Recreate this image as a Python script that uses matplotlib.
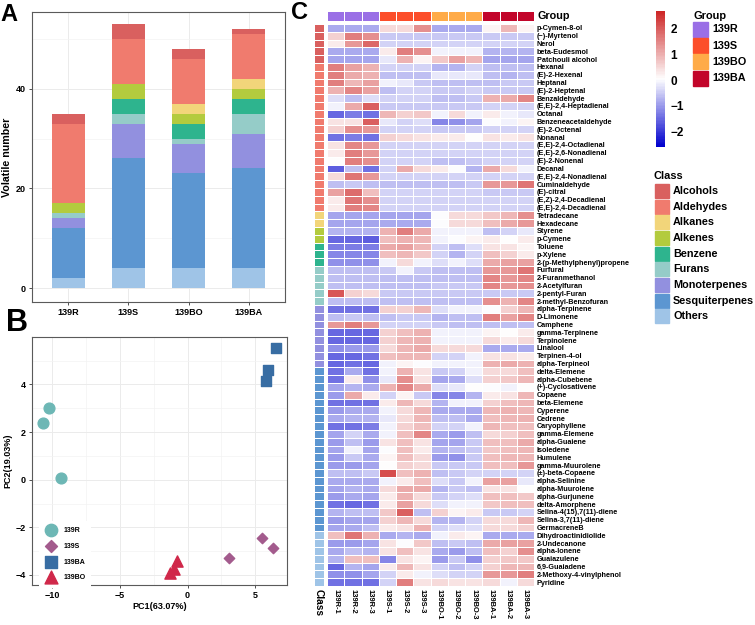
import numpy as np
import matplotlib
matplotlib.use("Agg")
import matplotlib.pyplot as plt
from matplotlib.colors import LinearSegmentedColormap, ListedColormap, Normalize
from matplotlib.patches import Rectangle

plt.rcParams['font.family'] = ['Liberation Sans', 'DejaVu Sans']
plt.rcParams['font.weight'] = 'bold'
plt.rcParams['axes.labelweight'] = 'bold'

W, H = 755, 625

# ---------------- data: panel A (number of volatiles per class)
groups = ['139R', '139S', '139BO', '139BA']
class_names = ['Alcohols', 'Aldehydes', 'Alkanes', 'Alkenes', 'Benzene',
               'Furans', 'Monoterpenes', 'Sesquiterpenes', 'Others']
class_colors = ['#D9605F', '#F07B6E', '#F2D57A', '#B3CB3E', '#2EB48E',
                '#95CCC8', '#9290DF', '#5C96D1', '#9FC4E7']

n_alcohols = [2, 3, 2, 1]
n_aldehydes = [16, 9, 9, 9]
n_alkanes = [0, 0, 2, 2]
n_alkenes = [2, 3, 2, 2]
n_benzene = [0, 3, 3, 3]
n_furans = [1, 2, 1, 4]
n_monoterpenes = [2, 7, 6, 7]
n_sesquiterpenes = [10, 22, 19, 20]
n_others = [2, 4, 4, 4]

# ---------------- data: panel B (PCA scores)
pca_groups = ['139R', '139S', '139BA', '139BO']
pc1_139R = [-10.25, -10.69, -9.36]
pc2_139R = [3.03, 2.38, 0.08]
pc1_139S = [3.06, 5.49, 6.28]
pc2_139S = [-3.30, -2.45, -2.87]
pc1_139BA = [6.55, 5.91, 5.81]
pc2_139BA = [5.51, 4.59, 4.15]
pc1_139BO = [-0.78, -0.98, -1.30]
pc2_139BO = [-3.41, -3.76, -3.90]

# ---------------- data: panel C (row z-scores)
samples = ['139R-1', '139R-2', '139R-3', '139S-1', '139S-2', '139S-3',
           '139BO-1', '139BO-2', '139BO-3', '139BA-1', '139BA-2', '139BA-3']
group_colors = ['#9A6FE6', '#FC4E2A', '#FFAB48', '#C2052A']
class_sizes = [5, 19, 2, 2, 3, 5, 8, 21, 7]

compounds = [
    'p-Cymen-8-ol', '(−)-Myrtenol', 'Nerol', 'beta-Eudesmol', 'Patchouli alcohol',
    'Hexanal', '(E)-2-Hexenal', 'Heptanal', '(E)-2-Heptenal', 'Benzaldehyde',
    '(E,E)-2,4-Heptadienal', 'Octanal', 'Benzeneacetaldehyde', '(E)-2-Octenal',
    'Nonanal', '(E,E)-2,4-Octadienal', '(E,E)-2,6-Nonadienal', '(E)-2-Nonenal',
    'Decanal', '(E,E)-2,4-Nonadienal', 'Cuminaldehyde', '(E)-citral',
    '(E,Z)-2,4-Decadienal', '(E,E)-2,4-Decadienal',
    'Tetradecane', 'Hexadecane', 'Styrene', 'p-Cymene', 'Toluene', 'p-Xylene',
    '2-(p-Methylphenyl)propene', 'Furfural', '2-Furanmethanol', '2-Acetylfuran',
    '2-pentyl-Furan', '2-methyl-Benzofuran',
    'alpha-Terpinene', 'D-Limonene', 'Camphene', 'gamma-Terpinene', 'Terpinolene',
    'Linalool', 'Terpinen-4-ol', 'alpha-Terpineol',
    'delta-Elemene', 'alpha-Cubebene', '(+)-Cyclosativene', 'Copaene', 'beta-Elemene',
    'Cyperene', 'Cedrene', 'Caryophyllene', 'gamma-Elemene', 'alpha-Guaiene',
    'Isoledene', 'Humulene', 'gamma-Muurolene', '(±)-beta-Copaene', 'alpha-Selinine',
    'alpha-Muurolene', 'alpha-Gurjunene', 'delta-Amorphene',
    'Selina-4(15),7(11)-diene', 'Selina-3,7(11)-diene', 'GermacreneB',
    'Dihydroactinidiolide', '2-Undecanone', 'alpha-Ionene', 'Guaiazulene',
    '6,9-Guaiadene', '2-Methoxy-4-vinylphenol', 'Pyridine',
]

zscores = np.array([
    [-0.8, -0.8, -0.8, 0.5, 0.5, 1.4, -0.8, -0.8, -0.8, 0.2, 0.9, 0.2],
    [0.6, 1.6, 1.4, -0.5, -0.5, -0.5, -0.5, -0.5, -0.5, -0.5, -0.5, -0.5],
    [0.3, 1.3, 1.9, -0.4, -0.4, -0.4, -0.4, -0.4, -0.4, -0.4, -0.4, -0.4],
    [-0.8, -0.8, -0.8, 0.3, 1.6, 1.4, -0.1, -0.1, -0.1, -0.7, -0.7, -0.7],
    [-0.9, -0.9, -0.9, -0.2, 1.0, 0.2, 0.7, 1.2, 0.9, -0.9, -0.9, -0.9],
    [1.6, 1.2, 1.0, -0.4, -0.4, -0.4, -0.7, -0.7, -0.4, -0.6, -0.6, -0.6],
    [1.6, 1.1, 1.0, -0.6, -0.6, -0.6, -0.2, -0.2, -0.2, -0.6, -0.7, -0.6],
    [1.6, 0.9, 1.2, -0.1, -0.2, -0.5, -0.6, -0.6, -0.6, -0.6, -0.5, -0.5],
    [1.0, 1.5, 1.2, -0.6, -0.4, -0.4, -0.5, -0.5, -0.4, -0.5, -0.5, -0.5],
    [-0.3, -0.6, -0.3, -0.4, -0.4, -0.4, -0.6, -0.6, -0.5, 1.0, 1.1, 1.5],
    [-0.1, 1.1, 2.0, -0.5, -0.5, -0.5, -0.5, -0.5, -0.5, -0.4, -0.4, -0.4],
    [-1.5, -1.3, -1.4, 0.9, 0.6, 0.7, -0.1, 0.5, -0.1, 0.3, -0.1, -0.2],
    [0.4, 0.4, 2.0, -0.2, -0.4, -0.3, -1.2, -1.1, -0.9, 0.0, -0.1, 0.2],
    [0.6, 1.4, 1.3, -0.4, -0.4, -0.4, -0.5, -0.5, -0.5, -0.4, -0.4, -0.4],
    [-1.4, -1.3, -1.4, 0.6, 0.5, 0.4, 0.3, 0.3, 0.1, 0.4, 0.3, 0.4],
    [0.4, 1.5, 1.3, -0.4, -0.4, -0.4, -0.4, -0.4, -0.4, -0.4, -0.4, -0.4],
    [0.3, 1.6, 1.3, -0.4, -0.4, -0.4, -0.4, -0.4, -0.4, -0.4, -0.4, -0.4],
    [0.1, 1.6, 1.4, -0.4, -0.4, -0.4, -0.6, -0.6, -0.5, -0.4, -0.4, -0.4],
    [-1.6, -0.6, -1.4, -0.4, 1.1, 0.5, 0.3, 0.0, -0.7, 1.1, 0.5, -0.1],
    [0.5, 1.7, 1.3, -0.4, -0.4, -0.4, -0.4, -0.4, -0.4, -0.4, -0.4, -0.4],
    [-0.6, -0.5, -0.6, -0.6, -0.6, -0.6, -0.6, -0.6, -0.5, 1.3, 1.3, 1.7],
    [1.2, 1.8, 0.8, -0.4, -0.4, -0.4, -0.4, -0.4, -0.4, -0.5, -0.5, -0.5],
    [0.3, 1.7, 1.4, -0.4, -0.4, -0.4, -0.4, -0.4, -0.4, -0.4, -0.4, -0.4],
    [0.3, 1.6, 1.5, -0.4, -0.4, -0.4, -0.4, -0.4, -0.4, -0.4, -0.4, -0.4],
    [-0.9, -0.9, -0.9, -0.9, -0.9, -0.9, 0.0, 0.5, 0.5, 0.7, 0.9, 1.4],
    [-0.9, -0.9, -0.9, -0.8, -0.8, -0.8, 0.0, 0.5, 0.5, 0.8, 1.1, 1.3],
    [-0.7, -0.7, -0.7, 1.0, 1.6, 1.1, -0.1, -0.1, -0.1, -0.6, -0.4, -0.2],
    [-1.5, -1.5, -1.6, 0.8, 1.0, 0.9, -0.1, 0.0, 0.2, 0.3, 0.1, 0.3],
    [-1.3, -1.3, -1.3, 1.1, 1.2, 0.9, -0.4, -0.6, -0.3, 0.4, 0.4, 0.2],
    [-1.2, -1.2, -1.2, 0.8, 0.9, 0.7, -0.4, -0.7, -0.4, 0.8, 0.6, 0.3],
    [-1.1, -1.1, -1.1, -0.1, 0.5, -0.1, -0.3, -0.1, -0.3, 1.1, 1.2, 1.2],
    [-0.6, -0.6, -0.6, -0.5, -0.1, -0.5, -0.6, -0.6, -0.6, 1.3, 1.3, 1.7],
    [-0.6, -0.6, -0.6, -0.6, -0.6, -0.6, -0.6, -0.6, -0.6, 1.5, 1.3, 1.5],
    [-0.6, -0.6, -0.6, -0.6, -0.6, -0.6, -0.5, -0.5, -0.5, 1.5, 1.3, 1.4],
    [2.1, 0.6, 0.5, -0.5, -0.5, -0.5, -0.5, -0.5, -0.5, -0.5, -0.5, -0.5],
    [-0.6, -0.6, -0.6, -0.6, -0.6, -0.6, -0.6, -0.6, -0.6, 1.4, 1.0, 1.5],
    [-1.4, -1.4, -1.4, 0.6, 0.6, 0.9, -0.3, -0.1, -0.1, 0.0, 0.6, 0.9],
    [-0.6, -0.5, -0.6, -0.6, -0.5, -0.5, -0.7, -0.6, -0.6, 1.6, 1.2, 1.5],
    [1.3, 1.6, 1.3, -0.4, -0.4, -0.4, -0.5, -0.6, -0.6, -0.6, -0.6, -0.6],
    [-1.5, -1.5, -1.5, 0.6, 0.8, 1.0, -0.1, -0.1, -0.1, 0.2, 0.1, 0.3],
    [-1.5, -1.5, -1.5, 0.6, 0.9, 1.0, -0.1, -0.1, -0.1, 0.5, 0.3, 0.5],
    [-1.1, -1.0, -1.0, 0.5, 0.9, 1.1, 0.5, 0.5, 0.5, -0.8, -0.8, -0.8],
    [-1.5, -1.5, -1.4, 0.8, 0.9, 0.9, -0.4, -0.4, -0.1, 0.4, 0.4, 0.3],
    [-1.5, -1.4, -1.5, -0.1, 0.2, 0.0, -0.1, -0.1, -0.1, 1.0, 1.1, 1.0],
    [-1.4, -0.8, -1.4, -0.1, 1.0, 0.4, -0.5, -0.4, -0.1, 0.5, 0.5, 0.8],
    [-1.4, 0.3, -1.1, -0.2, 1.4, 0.4, -0.9, -0.8, -0.3, 0.6, 0.7, 0.9],
    [-0.9, -0.7, -0.8, 1.0, 1.5, 1.1, -0.3, -0.2, 0.1, 0.0, -0.1, 0.1],
    [-1.0, 1.1, 0.3, -0.4, 0.2, -0.5, -1.2, -1.2, -0.7, 0.3, 0.4, 0.9],
    [-1.4, -1.4, -1.4, 0.3, 0.9, 0.5, -0.7, -0.1, -0.1, 0.6, 0.8, 0.9],
    [-1.0, -0.8, -0.8, -0.1, 0.5, 0.9, -0.8, -0.8, -0.8, 0.9, 1.0, 0.9],
    [-0.8, -0.7, -0.7, -0.2, 0.5, 0.9, -0.6, -0.6, -0.8, 0.8, 0.9, 1.0],
    [-1.4, -1.4, -1.3, -0.1, 0.6, 0.8, -0.4, -0.4, -0.1, 0.9, 0.8, 0.8],
    [-0.9, -0.4, -0.8, -0.1, 0.8, 1.5, -0.8, -1.0, -0.6, 0.5, 0.6, 0.8],
    [-1.0, -0.6, -1.0, 0.4, 0.8, 0.4, -0.9, -0.9, -0.5, 0.8, 0.8, 1.1],
    [-0.9, -0.1, -0.9, 0.0, 0.8, 0.3, -0.7, -0.6, -0.5, 0.7, 0.8, 0.9],
    [-1.0, -0.5, -0.8, 0.2, 0.8, 0.5, -1.0, -1.1, -0.5, 0.8, 0.9, 0.9],
    [-1.0, -1.0, -0.9, 0.1, 0.6, 0.5, -0.5, -0.5, -0.5, 0.8, 0.8, 1.3],
    [-0.6, -0.6, -0.5, 2.2, 0.8, 1.0, -0.6, -0.5, -0.4, -0.4, -0.4, -0.4],
    [-0.8, -0.8, -0.8, -0.1, 0.3, 0.8, -0.3, -0.5, -0.1, 1.2, 1.2, -0.2],
    [-0.9, -0.7, -0.8, 0.5, 1.1, 1.1, -0.7, -0.5, -0.6, 0.4, 0.4, 0.1],
    [-1.0, -0.8, -0.9, 0.3, 1.0, 0.5, -0.5, -0.4, -0.3, 0.8, 0.8, 0.7],
    [-1.4, -1.5, -1.4, 0.3, 1.2, 0.5, -0.3, -0.1, -0.1, 0.7, 0.8, 0.8],
    [-0.7, -0.6, -0.6, 0.7, 2.0, -0.6, 0.6, 0.2, 0.3, -0.5, -0.5, -0.4],
    [-1.0, -0.9, -0.9, 0.6, 0.9, 0.5, -0.7, -0.7, -0.4, 0.5, 0.5, 0.9],
    [-0.9, -0.8, -0.6, 0.3, 0.4, 1.0, -0.4, -0.3, -0.3, 0.5, 0.5, 0.6],
    [0.8, 1.7, 1.0, -0.8, -0.7, -0.8, -0.1, 0.3, 0.2, -0.8, -0.8, -0.8],
    [-1.0, -1.0, -0.9, 0.4, 0.0, 0.7, -0.6, -0.5, -0.6, 1.1, 1.2, 1.2],
    [-0.8, -0.6, -0.7, 0.4, 0.8, 0.4, -0.8, -1.0, -0.6, 0.8, 0.6, 1.4],
    [-0.7, 0.8, 0.8, -1.2, 0.4, 0.2, -1.0, -0.5, -1.1, 0.6, 0.7, 0.7],
    [-1.5, -0.7, -0.9, 0.3, 0.9, 0.4, -0.4, -0.6, -0.4, 0.6, 0.9, 0.9],
    [-1.1, -1.1, -0.9, -0.4, 0.3, -0.1, -0.3, -0.4, -0.4, 1.3, 1.3, 1.6],
    [-1.4, -1.4, -1.4, -0.4, 1.6, 0.4, 0.5, 0.4, 0.4, 0.5, -0.1, 0.5],
])


def add_ax(x0, y0, x1, y1):
    # axes placed by pixel box (left, top, right, bottom)
    return fig.add_axes([x0 / W, 1 - y1 / H, (x1 - x0) / W, (y1 - y0) / H])


def style_ggplot(ax):
    for s in ax.spines.values():
        s.set_color('#5A5A5A')
        s.set_linewidth(0.8)
    ax.grid(which='major', color='#EBEBEB', lw=0.7, zorder=0)
    ax.grid(which='minor', color='#F3F3F3', lw=0.5, zorder=0)
    ax.set_axisbelow(True)
    ax.tick_params(which='major', length=2.5, width=0.6, color='#333333',
                   labelsize=6.5, pad=2)
    ax.tick_params(which='minor', length=0)


fig = plt.figure(figsize=(W / 100, H / 100), dpi=100)

# ---------------- panel A
ax_a = add_ax(32, 12, 285, 302)
stack = [n_others, n_sesquiterpenes, n_monoterpenes, n_furans, n_benzene,
         n_alkenes, n_alkanes, n_aldehydes, n_alcohols]
stack_colors = class_colors[::-1]
xpos = np.arange(len(groups))
bottom = np.zeros(len(groups))
for vals, col in zip(stack, stack_colors):
    ax_a.bar(xpos, vals, 0.55, bottom=bottom, color=col, zorder=2)
    bottom += np.array(vals)
ax_a.set_xlim(-0.6, 3.6)
ax_a.set_ylim(-2.8, 55.4)
ax_a.set_xticks(xpos, groups)
ax_a.set_yticks([0, 20, 40])
ax_a.set_yticks([10, 30, 50], minor=True)
style_ggplot(ax_a)
ax_a.set_ylabel('Volatile number', fontsize=7.7, labelpad=3)

# ---------------- panel B
ax_b = add_ax(32, 337, 287, 585)
ax_b.scatter(pc1_139R, pc2_139R, marker='o', s=60, color='#6DB7B5', label='139R', zorder=3)
ax_b.scatter(pc1_139S, pc2_139S, marker='D', s=28, color='#A35B8D', label='139S', zorder=3)
ax_b.scatter(pc1_139BA, pc2_139BA, marker='s', s=50, color='#386DA3', label='139BA', zorder=3)
ax_b.scatter(pc1_139BO, pc2_139BO, marker='^', s=65, color='#D0284A', label='139BO', zorder=3)
ax_b.set_xlim(-11.5, 7.35)
ax_b.set_ylim(-4.42, 5.99)
ax_b.set_xticks([-10, -5, 0, 5])
ax_b.set_xticks([-7.5, -2.5, 2.5], minor=True)
ax_b.set_yticks([-4, -2, 0, 2, 4])
ax_b.set_yticks([-3, -1, 1, 3, 5], minor=True)
style_ggplot(ax_b)
ax_b.set_xlabel('PC1(63.07%)', fontsize=6.5, labelpad=1)
ax_b.set_ylabel('PC2(19.03%)', fontsize=6.5, labelpad=2)
leg = ax_b.legend(loc='lower left', bbox_to_anchor=(36 / W, 1 - 591 / H),
                  bbox_transform=fig.transFigure, frameon=True, fontsize=5,
                  facecolor='white', edgecolor='none', framealpha=1,
                  markerscale=1.15, handletextpad=0.9, labelspacing=1.25,
                  borderpad=0.9, handlelength=1.6)

# ---------------- panel C heatmap
cmap = LinearSegmentedColormap.from_list('bwr_ph', ['#0000CD', '#FFFFFF', '#CD2626'], N=100)
norm = Normalize(vmin=-2.6, vmax=2.7)

ax_h = add_ax(327, 24, 534, 586)
mesh = ax_h.pcolormesh(zscores, cmap=cmap, norm=norm, edgecolors='white', linewidth=0.6)
ax_h.set_xlim(0, len(samples))
ax_h.set_ylim(len(compounds), 0)
ax_h.yaxis.tick_right()
ax_h.set_yticks(np.arange(len(compounds)) + 0.5, compounds, fontsize=5.2)
ax_h.set_xticks(np.arange(len(samples)) + 0.5, samples, rotation=270, fontsize=5.4)
ax_h.tick_params(length=0, pad=2)
for s in ax_h.spines.values():
    s.set_visible(False)

ax_g = add_ax(327, 11, 534, 21)
group_idx = np.repeat(np.arange(len(groups)), 3)[None, :]
ax_g.pcolormesh(group_idx, cmap=ListedColormap(group_colors), vmin=-0.5, vmax=3.5,
                edgecolors='white', linewidth=0.6)
ax_g.set_xlim(0, len(samples))
ax_g.axis('off')
fig.text(537 / W, 1 - 16 / H, 'Group', fontsize=7.8, va='center', ha='left')

ax_c = add_ax(314, 24, 324, 586)
class_idx = np.repeat(np.arange(len(class_names)), class_sizes)[:, None]
ax_c.pcolormesh(class_idx, cmap=ListedColormap(class_colors), vmin=-0.5, vmax=8.5,
                edgecolors='white', linewidth=0.6)
ax_c.set_ylim(len(compounds), 0)
ax_c.set_yticks([])
ax_c.set_xticks([0.5], ['Class'], rotation=270, fontsize=7.3)
ax_c.tick_params(length=0, pad=2)
for s in ax_c.spines.values():
    s.set_visible(False)

# colour key
cax = add_ax(656, 11, 665, 147)
cb = fig.colorbar(mesh, cax=cax, ticks=[-2, -1, 0, 1, 2])
cb.outline.set_visible(False)
cax.tick_params(length=0, labelsize=8.5, pad=4)

# ---------------- annotation legends and panel letters
ov = fig.add_axes([0, 0, 1, 1])
ov.set_xlim(0, W)
ov.set_ylim(H, 0)
ov.axis('off')

ov.text(693, 16, 'Group', fontsize=7.9, va='center', ha='left')
for i, (g, c) in enumerate(zip(groups, group_colors)):
    y = 22 + 16.2 * i
    ov.add_patch(Rectangle((693, y), 15, 15, color=c))
    ov.text(712, y + 7.5, g, fontsize=7.8, va='center', ha='left')

ov.text(654, 176, 'Class', fontsize=7.9, va='center', ha='left')
for i, (cl, c) in enumerate(zip(class_names, class_colors)):
    y = 184 + 15.65 * i
    ov.add_patch(Rectangle((655, y), 14, 14, color=c))
    ov.text(673, y + 7, cl, fontsize=7.8, va='center', ha='left')

ov.text(0, 21, 'A', fontsize=17, va='baseline', ha='left')
ov.text(6, 331, 'B', fontsize=22, va='baseline', ha='left')
ov.text(291, 19, 'C', fontsize=17, va='baseline', ha='left')

fig.savefig('out.png', dpi=100)
